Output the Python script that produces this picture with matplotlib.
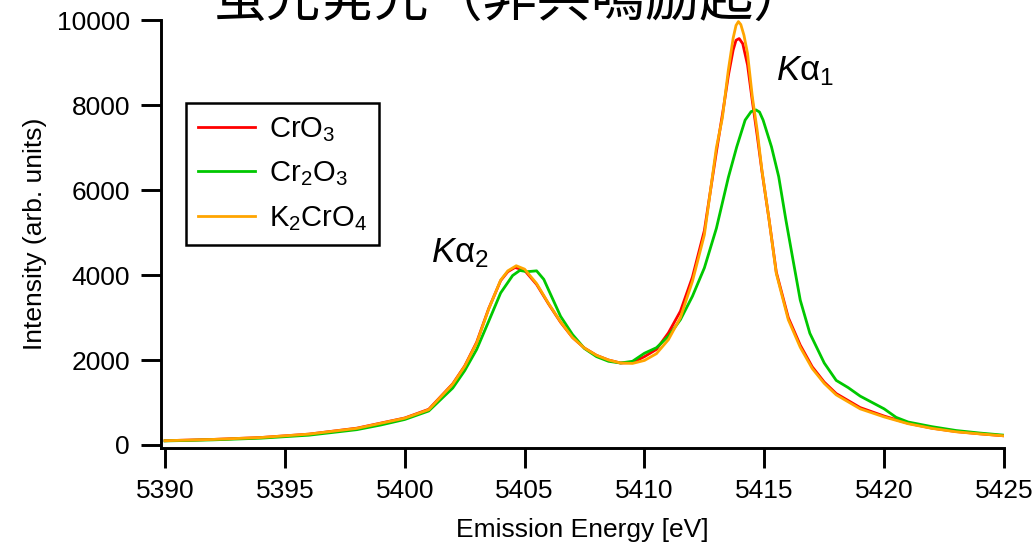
import matplotlib
matplotlib.use("Agg")
import matplotlib.pyplot as plt

plt.rcParams["font.family"] = ["Liberation Sans", "Noto Sans CJK JP"]
plt.rcParams["mathtext.fontset"] = "custom"
plt.rcParams["mathtext.rm"] = "Liberation Sans"
plt.rcParams["mathtext.it"] = "Liberation Sans:italic"
plt.rcParams["mathtext.default"] = "regular"

# emission energies (eV) and intensities
energy_cro3 = [5390, 5392, 5394, 5396, 5398, 5399, 5400, 5401, 5402, 5402.5, 5403, 5403.5,
               5404, 5404.3, 5404.6, 5405, 5405.5, 5406, 5406.5, 5407, 5407.5, 5408, 5408.5,
               5409, 5409.5, 5410, 5410.5, 5411, 5411.5, 5412, 5412.5, 5413, 5413.3, 5413.5,
               5413.7, 5413.82, 5413.95, 5414.1, 5414.3, 5414.5, 5414.7, 5414.9, 5415.2, 5415.5,
               5416, 5416.5, 5417, 5417.5, 5418, 5419, 5420, 5421, 5422, 5423, 5424, 5425]
int_cro3 = [100, 130, 175, 255, 395, 515, 635, 840, 1440, 1860, 2420, 3210,
            3870, 4080, 4180, 4110, 3780, 3320, 2890, 2530, 2280, 2110, 2000,
            1930, 1940, 2080, 2250, 2640, 3150, 3950, 5050, 6900, 7950, 8700,
            9300, 9530, 9570, 9450, 8950, 8100, 7300, 6450, 5300, 4070,
            3000, 2350, 1840, 1480, 1210, 880, 680, 510, 395, 315, 262, 215]

energy_cr2o3 = [5390, 5392, 5394, 5396, 5398, 5399, 5400, 5401, 5402, 5402.5, 5403, 5403.5,
                5404, 5404.5, 5404.8, 5405.1, 5405.5, 5405.8, 5406, 5406.5, 5407, 5407.5,
                5408, 5408.5, 5409, 5409.5, 5410, 5410.5, 5411, 5411.5, 5412, 5412.5, 5413,
                5413.5, 5413.85, 5414.2, 5414.45, 5414.65, 5414.8, 5414.95, 5415.3, 5415.6,
                5415.9, 5416.2, 5416.5, 5416.9, 5417.5, 5418, 5418.5, 5419, 5419.5, 5420,
                5420.5, 5421, 5422, 5423, 5424, 5425]
int_cr2o3 = [95, 120, 160, 230, 360, 470, 600, 800, 1340, 1750, 2250, 2910,
             3580, 3990, 4110, 4080, 4100, 3900, 3650, 3030, 2600, 2270,
             2080, 1970, 1930, 1970, 2160, 2290, 2560, 2950, 3500, 4170, 5100,
             6300, 7020, 7650, 7850, 7890, 7840, 7650, 7020, 6320,
             5300, 4350, 3410, 2630, 1930, 1520, 1350, 1150, 1000, 850,
             650, 540, 430, 340, 280, 230]

energy_k2cro4 = [5390, 5392, 5394, 5396, 5398, 5399, 5400, 5401, 5402, 5402.5, 5403, 5403.5,
                 5404, 5404.3, 5404.65, 5405, 5405.5, 5406, 5406.5, 5407, 5407.5, 5408, 5408.5,
                 5409, 5409.5, 5410, 5410.5, 5411, 5411.5, 5412, 5412.5, 5413, 5413.25, 5413.5,
                 5413.7, 5413.82, 5413.92, 5414.02, 5414.15, 5414.3, 5414.5, 5414.7, 5414.9,
                 5415.2, 5415.5, 5416, 5416.5, 5417, 5417.5, 5418, 5419, 5420, 5421, 5422,
                 5423, 5424, 5425]
int_k2cro4 = [100, 130, 175, 255, 390, 510, 630, 830, 1430, 1850, 2400, 3200,
              3880, 4100, 4220, 4140, 3800, 3330, 2900, 2530, 2280, 2110, 2000,
              1930, 1920, 1990, 2150, 2480, 3000, 3850, 4950, 7000, 7700, 8830,
              9580, 9880, 9970, 9900, 9650, 9220, 8200, 7420, 6470,
              5300, 4040, 2950, 2300, 1800, 1450, 1180, 850, 660, 500, 390,
              310, 260, 215]

series = [
    (r"CrO$_3$", energy_cro3, int_cro3, "#ff0000"),
    (r"Cr$_2$O$_3$", energy_cr2o3, int_cr2o3, "#00c800"),
    (r"K$_2$CrO$_4$", energy_k2cro4, int_k2cro4, "#ffa500"),
]

fig = plt.figure(figsize=(10.35, 5.43), dpi=100)
ax = fig.add_axes([161 / 1035, 1 - 447.5 / 543, 843 / 1035, 427.2 / 543])

for label, e, y, c in series:
    ax.plot(e, y, color=c, lw=2.0, label=label, solid_joinstyle="round")

ax.set_xlim(5389.83, 5425)
ax.set_ylim(-60, 10000)
ax.set_xticks(range(5390, 5426, 5))
ax.set_yticks(range(0, 10001, 2000))
for s in ("top", "right"):
    ax.spines[s].set_visible(False)
for s in ("left", "bottom"):
    ax.spines[s].set_linewidth(2.1)
ax.tick_params(length=14.4, width=2.1, pad=8, labelsize=19)

ax.set_xlabel("Emission Energy [eV]", fontsize=19, labelpad=11)
ax.set_ylabel("Intensity (arb. units)", fontsize=19, labelpad=7)

ax.text(5401.1, 4300, r"$\mathit{K}\alpha_2$", fontsize=25)
ax.text(5415.5, 8590, r"$\mathit{K}\alpha_1$", fontsize=25)

leg = ax.legend(loc="upper left", bbox_to_anchor=(0.0297, 0.806), borderaxespad=0,
                fontsize=21, handlelength=1.95, handletextpad=0.5, labelspacing=0.55,
                borderpad=0.4, fancybox=False, framealpha=1)
leg.get_frame().set_edgecolor("black")
leg.get_frame().set_linewidth(1.8)

fig.text(510 / 1035, 1 - 16 / 543, "蛍光発光（非共鳴励起）", fontsize=39,
         family=["Noto Sans CJK JP", "DejaVu Sans"], ha="center", va="baseline")

fig.savefig("out.png", dpi=100)
